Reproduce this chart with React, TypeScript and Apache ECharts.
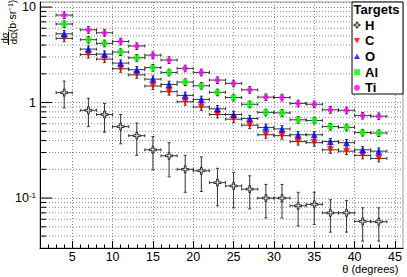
import React, { useEffect, useRef } from 'react';
import * as echarts from 'echarts';

// ---- data ----
const angles = [4, 7, 9, 11, 13, 15, 17, 19, 21, 23, 25, 27, 29, 31, 33, 35, 37, 39, 41, 43];
const angleHalfWidth = 1;

const hValues = [1.27, 0.83, 0.75, 0.56, 0.45, 0.32, 0.277, 0.2, 0.193, 0.145, 0.134, 0.124, 0.1, 0.1, 0.083, 0.086, 0.07, 0.07, 0.057, 0.0565];
const hUpper = [1.68, 1.11, 0.98, 0.75, 0.61, 0.44, 0.38, 0.28, 0.27, 0.205, 0.186, 0.171, 0.139, 0.139, 0.115, 0.115, 0.096, 0.094, 0.079, 0.079];
const hLower = [0.88, 0.56, 0.49, 0.37, 0.28, 0.197, 0.167, 0.115, 0.117, 0.083, 0.079, 0.077, 0.062, 0.062, 0.051, 0.053, 0.044, 0.044, 0.0354, 0.0354];

const cValues = [4.7, 3.18, 2.85, 2.26, 1.95, 1.49, 1.3, 1.02, 0.9, 0.75, 0.67, 0.58, 0.46, 0.45, 0.39, 0.38, 0.32, 0.31, 0.28, 0.26];
const oValues = [5.25, 3.63, 3.22, 2.59, 2.21, 1.76, 1.55, 1.19, 1.08, 0.86, 0.75, 0.68, 0.55, 0.53, 0.46, 0.46, 0.39, 0.38, 0.32, 0.31];
const alValues = [6.64, 4.55, 4.17, 3.38, 2.94, 2.32, 2.07, 1.64, 1.5, 1.28, 1.13, 0.96, 0.79, 0.78, 0.66, 0.65, 0.56, 0.55, 0.485, 0.48];
const tiValues = [8.25, 5.78, 5.38, 4.37, 3.91, 3.14, 2.79, 2.28, 2.07, 1.72, 1.59, 1.36, 1.14, 1.13, 0.98, 0.96, 0.84, 0.83, 0.73, 0.72];
const heavyRelErr = 0.08;

const xMajorTicks = [5, 10, 15, 20, 25, 30, 35, 40, 45];
const xMinorTicks = [2, 3, 4, 6, 7, 8, 9, 11, 12, 13, 14, 16, 17, 18, 19, 21, 22, 23, 24, 26, 27, 28, 29, 31, 32, 33, 34, 36, 37, 38, 39, 41, 42, 43, 44];
const yMajorTicks = [0.1, 1, 10];
const yMinorTicks = [0.04, 0.05, 0.06, 0.07, 0.08, 0.09, 0.2, 0.3, 0.4, 0.5, 0.6, 0.7, 0.8, 0.9, 2, 3, 4, 5, 6, 7, 8, 9];

const targetNames = ['H', 'C', 'O', 'Al', 'Ti'];

const X_MIN = 1;
const X_MAX = 46;
const Y_MIN = 0.03;
const Y_MAX = 11.3;

const FONT = '"Liberation Sans", Arial, Helvetica, sans-serif';
const GRID_COLOR = '#888';
const openCross = 'path://M3,0L5,0L5,3L8,3L8,5L5,5L5,8L3,8L3,5L0,5L0,3L3,3Z';
const downTriangle = 'path://M0,0L10,0L5,9Z';
const upTriangle = 'path://M5,0L10,9L0,9Z';

function errRows(values: number[], lower?: number[], upper?: number[]) {
  return angles.map((a, i) => [
    a,
    values[i],
    lower ? lower[i] : values[i] * (1 - heavyRelErr),
    upper ? upper[i] : values[i] * (1 + heavyRelErr),
  ]);
}

function errRender(_params: any, api: any) {
  const x = api.value(0);
  const y = api.value(1);
  const lo = api.value(2);
  const hi = api.value(3);
  const l = api.coord([x - angleHalfWidth, y]);
  const r = api.coord([x + angleHalfWidth, y]);
  const t = api.coord([x, hi]);
  const b = api.coord([x, lo]);
  const cap = 1.5;
  const style = { stroke: '#333', lineWidth: 1, fill: null };
  const seg = (x1: number, y1: number, x2: number, y2: number) => ({ type: 'line', shape: { x1, y1, x2, y2 }, style });
  return {
    type: 'group',
    children: [
      seg(l[0], l[1], r[0], r[1]),
      seg(t[0], t[1], b[0], b[1]),
      seg(t[0] - cap, t[1], t[0] + cap, t[1]),
      seg(b[0] - cap, b[1], b[0] + cap, b[1]),
      seg(l[0], l[1] - cap, l[0], l[1] + cap),
      seg(r[0], r[1] - cap, r[0], r[1] + cap),
    ],
  };
}

function yTickRender(len: number, withGrid: boolean) {
  return (_params: any, api: any) => {
    const v = api.value(1);
    const p = api.coord([X_MIN, v]);
    const q = api.coord([X_MAX, v]);
    const children: any[] = [];
    if (withGrid) {
      children.push({
        type: 'line',
        shape: { x1: p[0], y1: p[1], x2: q[0], y2: q[1] },
        style: { stroke: GRID_COLOR, lineWidth: 1, lineDash: [1, 2] },
      });
    }
    children.push({
      type: 'line',
      shape: { x1: p[0], y1: p[1], x2: p[0] + len, y2: p[1] },
      style: { stroke: '#000', lineWidth: 1 },
    });
    return { type: 'group', children };
  };
}

const seriesStyles: Record<string, any> = {
  H: { symbol: openCross, symbolSize: 7, itemStyle: { color: '#fff', borderColor: '#000', borderWidth: 1 } },
  C: { symbol: downTriangle, symbolSize: 7, itemStyle: { color: '#ff0000' } },
  O: { symbol: upTriangle, symbolSize: 7, itemStyle: { color: '#0000ff' } },
  Al: { symbol: 'rect', symbolSize: 5.5, itemStyle: { color: '#00ff00' } },
  Ti: { symbol: 'circle', symbolSize: 5.5, itemStyle: { color: '#ff00ff' } },
};

const valuesByName: Record<string, number[]> = { H: hValues, C: cValues, O: oValues, Al: alValues, Ti: tiValues };

export default function App() {
  const ref = useRef<HTMLDivElement>(null);
  useEffect(() => {
    if (!ref.current) return;
    const chart = echarts.init(ref.current, undefined, { renderer: 'svg' });

    const errSeries = targetNames.map((name) => ({
      type: 'custom',
      name: name + ' err',
      xAxisIndex: 0,
      yAxisIndex: 0,
      renderItem: errRender,
      data: name === 'H' ? errRows(hValues, hLower, hUpper) : errRows(valuesByName[name]),
      encode: { x: 0, y: 1 },
      clip: true,
      z: 2,
      silent: true,
    }));

    const markerSeries = targetNames.map((name) => ({
      type: 'scatter',
      name,
      xAxisIndex: 0,
      yAxisIndex: 0,
      data: angles.map((a, i) => [a, valuesByName[name][i]]),
      symbol: seriesStyles[name].symbol,
      symbolSize: seriesStyles[name].symbolSize,
      itemStyle: seriesStyles[name].itemStyle,
      z: 3,
      silent: true,
    }));

    const option: any = {
      animation: false,
      backgroundColor: '#fff',
      grid: {
        left: 40,
        right: 4,
        top: 2,
        bottom: 29,
        show: true,
        borderColor: '#999',
        borderWidth: 1,
        containLabel: false,
        outerBoundsMode: 'none',
      },
      xAxis: [
        {
          type: 'value',
          min: X_MIN,
          max: X_MAX,
          position: 'bottom',
          axisLine: { show: true, onZero: false, lineStyle: { color: '#000', width: 1 } },
          axisTick: { show: true, inside: true, length: 7, customValues: xMajorTicks, lineStyle: { color: '#000' } },
          axisLabel: {
            customValues: xMajorTicks,
            margin: 3,
            fontSize: 12.5,
            lineHeight: 12,
            fontFamily: FONT,
            color: '#000',
          },
          splitLine: { show: true, lineStyle: { color: GRID_COLOR, type: [1, 2], width: 1 } },
        },
        {
          type: 'value',
          min: X_MIN,
          max: X_MAX,
          position: 'bottom',
          axisLine: { show: false, onZero: false },
          axisTick: { show: true, inside: true, length: 3.5, customValues: xMinorTicks, lineStyle: { color: '#000' } },
          axisLabel: { show: false },
          splitLine: { show: false },
        },
      ],
      yAxis: {
        type: 'log',
        logBase: 10,
        min: Y_MIN,
        max: Y_MAX,
        axisLine: { show: true, onZero: false, lineStyle: { color: '#000', width: 1 } },
        axisTick: { show: false },
        axisLabel: {
          margin: 4,
          fontSize: 12.5,
          fontFamily: FONT,
          color: '#000',
          showMinLabel: false,
          showMaxLabel: false,
          formatter: (v: number) => {
            const e = Math.log10(v);
            const r = Math.round(e);
            if (Math.abs(e - r) > 1e-6) return '';
            if (r === 0) return '1';
            if (r === 1) return '10';
            return '{b|10}{s|' + r + '}';
          },
          rich: {
            b: { fontSize: 12.5, fontFamily: FONT, color: '#000' },
            s: { fontSize: 8, fontFamily: FONT, color: '#000', verticalAlign: 'top' },
          },
        },
        splitLine: { show: true, lineStyle: { color: GRID_COLOR, type: [1, 2], width: 1 } },
      },
      legend: {
        data: targetNames.map((name) => ({
          name,
          icon: seriesStyles[name].symbol,
          itemStyle: { ...seriesStyles[name].itemStyle },
        })),
        orient: 'vertical',
        left: 353.5,
        top: 18.5,
        padding: 0,
        itemWidth: 6,
        itemHeight: 6,
        itemGap: 2.7,
        selectedMode: false,
        textStyle: { fontSize: 13, fontWeight: 'bold', fontFamily: FONT, color: '#000', lineHeight: 13 },
        z: 6,
      },
      graphic: [
        {
          type: 'rect',
          z: 5,
          shape: { x: 352, y: 2, width: 51, height: 92 },
          style: { fill: '#fff', stroke: '#000', lineWidth: 1 },
        },
        {
          type: 'text',
          z: 6,
          x: 353.5,
          y: 9.5,
          style: {
            text: 'Targets',
            fontSize: 13,
            fontWeight: 'bold',
            fontFamily: FONT,
            fill: '#000',
            align: 'left',
            textAlign: 'left',
            verticalAlign: 'middle',
            textVerticalAlign: 'middle',
          },
        },
        {
          type: 'text',
          x: 4,
          y: 38,
          rotation: Math.PI / 2,
          style: {
            text: 'dσ',
            fontSize: 9.5,
            fontFamily: FONT,
            fill: '#000',
            align: 'center',
            textAlign: 'center',
            verticalAlign: 'middle',
            textVerticalAlign: 'middle',
          },
        },
        {
          type: 'line',
          shape: { x1: 8.5, y1: 31.5, x2: 8.5, y2: 45 },
          style: { stroke: '#000', lineWidth: 1 },
        },
        {
          type: 'text',
          x: 13.5,
          y: 38,
          rotation: Math.PI / 2,
          style: {
            text: 'dΩ',
            fontSize: 9.5,
            fontFamily: FONT,
            fill: '#000',
            align: 'center',
            textAlign: 'center',
            verticalAlign: 'middle',
            textVerticalAlign: 'middle',
          },
        },
        {
          type: 'text',
          x: 12,
          y: 16,
          rotation: Math.PI / 2,
          style: {
            text: '(b·sr⁻¹)',
            fontSize: 10.5,
            fontFamily: FONT,
            fill: '#000',
            align: 'center',
            textAlign: 'center',
            verticalAlign: 'middle',
            textVerticalAlign: 'middle',
          },
        },
        {
          type: 'text',
          x: 398.5,
          y: 269,
          style: {
            text: 'θ (degrees)',
            fontSize: 11,
            lineHeight: 11,
            fontFamily: FONT,
            fill: '#000',
            align: 'right',
            textAlign: 'right',
            verticalAlign: 'middle',
            textVerticalAlign: 'middle',
          },
        },
      ],
      series: [
        {
          type: 'custom',
          name: 'y minor ticks',
          renderItem: yTickRender(6, true),
          data: yMinorTicks.map((v) => [X_MIN, v]),
          encode: { x: 0, y: 1 },
          clip: false,
          silent: true,
          z: 1,
        },
        {
          type: 'custom',
          name: 'y major ticks',
          renderItem: yTickRender(12, false),
          data: yMajorTicks.map((v) => [X_MIN, v]),
          encode: { x: 0, y: 1 },
          clip: false,
          silent: true,
          z: 1,
        },
        ...errSeries,
        ...markerSeries,
      ],
    };

    chart.setOption(option);
    return () => chart.dispose();
  }, []);

  return (
    <div
      ref={ref}
      style={{ position: 'fixed', left: 0, top: 0, width: 407, height: 277, background: '#fff' }}
    />
  );
}
